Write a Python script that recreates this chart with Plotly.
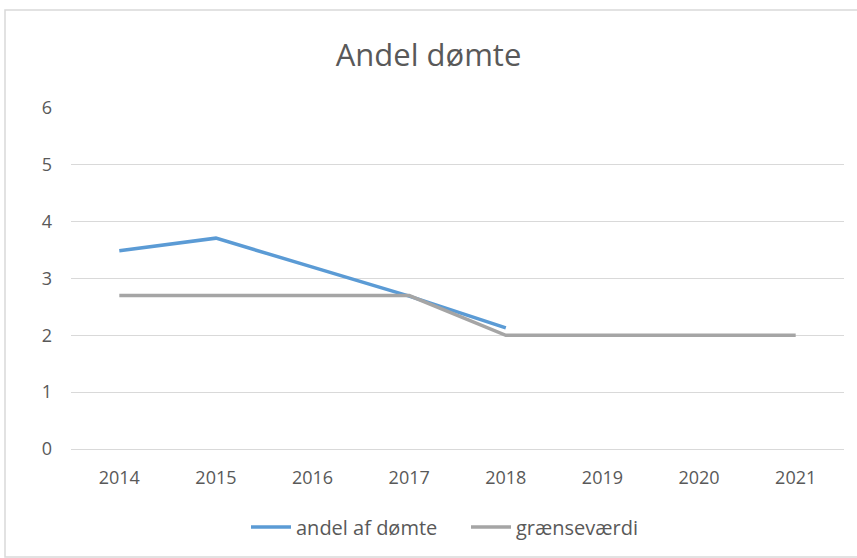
import plotly.graph_objects as go

years = ["2014", "2015", "2016", "2017", "2018", "2019", "2020", "2021"]
andel = [3.49, 3.71, 3.20, 2.69, 2.13, None, None, None]
graense = [2.7, 2.7, 2.7, 2.7, 2.0, 2.0, 2.0, 2.0]

W, H = 857, 558
L, R, T, B = 71, 13, 108, 109
pw, ph = W - L - R, H - T - B

def px(x):
    return (x - L) / pw

def py(y):
    return (H - B - y) / ph

fig = go.Figure()
fig.add_trace(go.Scatter(x=years, y=andel, mode="lines", name="andel af dømte",
                         line=dict(color="#5b9bd5", width=3.5)))
fig.add_trace(go.Scatter(x=years, y=graense, mode="lines", name="grænseværdi",
                         line=dict(color="#a5a5a5", width=3.5)))

fig.update_layout(
    width=W, height=H,
    margin=dict(l=L, r=R, t=T, b=B, autoexpand=False),
    paper_bgcolor="white", plot_bgcolor="white",
    font=dict(family="Open Sans, Liberation Sans, sans-serif", color="#595959", size=18),
    title=dict(text="Andel dømte", x=0.5, xanchor="center", y=1 - 55 / H, yanchor="middle",
               font=dict(size=31, color="#595959")),
    legend=dict(orientation="h", x=px(246), xanchor="left", y=py(527), yanchor="middle",
                font=dict(size=20, color="#595959"), itemwidth=40, entrywidth=165,
                tracegroupgap=0),
    shapes=[dict(type="rect", xref="paper", yref="paper",
                 x0=px(5), x1=px(858), y0=py(557), y1=py(10),
                 line=dict(color="#d9d9d9", width=1.5))],
)
fig.update_xaxes(type="category", range=[-0.5, 7.5], showgrid=False, showline=True,
                 linecolor="#d9d9d9", linewidth=1, ticks="", ticklabelstandoff=12,
                 tickfont=dict(size=18))
fig.update_yaxes(range=[0, 6], dtick=1, showgrid=True, gridcolor="#d9d9d9",
                 zeroline=False, ticks="", ticklabelstandoff=18, tickfont=dict(size=18))

fig.write_html("out.html", config={"displayModeBar": False},
               post_script="document.body.style.margin='0';")
